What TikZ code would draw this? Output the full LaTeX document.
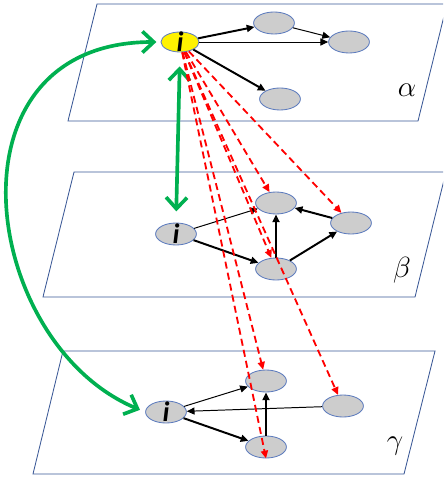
\documentclass[tikz,border=0pt]{standalone}
\usepackage{fontspec}
\setmainfont{Carlito}
\usetikzlibrary{arrows.meta,shapes.geometric}
\definecolor{planeblue}{RGB}{58,88,150}
\definecolor{nodeline}{RGB}{95,125,190}
\definecolor{nodegray}{RGB}{205,205,205}
\definecolor{linkgreen}{RGB}{0,176,80}

\begin{document}
\begin{tikzpicture}[x=0.025cm,y=-0.025cm,>={Triangle[length=5.5pt,width=5pt]},
  plane/.style={draw=planeblue,line width=0.6pt},
  vert/.style={draw=nodeline,line width=0.6pt,ellipse,fill=nodegray,minimum width=1.02cm,minimum height=0.55cm,inner sep=0pt},
  self/.style={vert,label={[font=\fontsize{20}{20}\selectfont\bfseries\itshape,inner sep=0pt]center:i}},
  layer/.style={font=\fontsize{21}{21}\selectfont},
  thick link/.style={->,line width=1.4pt},
  thin link/.style={->,line width=0.7pt},
  green link/.style={>={Straight Barb[length=8pt,width=15pt]},<->,draw=linkgreen,line width=2.6pt},
  cross link/.style={->,draw=red,line width=1.3pt,dash pattern=on 5pt off 3pt}]
\clip (0,0) rectangle (443,478);
\draw[plane] (68,121) -- (418,121) -- (447,4) -- (97,4) -- cycle;
\draw[plane] (43,297) -- (415,297) -- (446,172) -- (74,172) -- cycle;
\draw[plane] (33,474) -- (404,474) -- (435,351) -- (63,351) -- cycle;
\node[layer] (alpha) at (407,90) {$\alpha$};
\node[layer] (beta) at (402,270) {$\beta$};
\node[layer] (gamma) at (395,446) {$\gamma$};
\node[self,fill=yellow,minimum width=0.95cm,minimum height=0.5cm] (ai) at (180,42) {};
\node[vert] (a1) at (274,23) {};
\node[vert] (a2) at (349,42) {};
\node[vert] (a3) at (280,99) {};
\node[self] (bi) at (176,234) {};
\node[vert] (b1) at (276,203) {};
\node[vert] (b2) at (351,223) {};
\node[vert] (b3) at (276,269) {};
\node[self] (gi) at (166,412) {};
\node[vert] (g1) at (266,381) {};
\node[vert] (g2) at (343,406) {};
\node[vert] (g3) at (266,447) {};
\draw[thick link] (ai) -- (a1); \draw[thin link] (ai) -- (a2);
\draw[thin link] (a1) -- (a2); \draw[thick link] (ai) -- (a3);
\draw[thin link] (bi) -- (b1); \draw[thick link] (bi) -- (b3); \draw[thick link] (b3) -- (b1);
\draw[thick link] (b3) -- (b2); \draw[thick link] (b2) -- (b1);
\draw[thin link] (gi) -- (g1); \draw[thick link] (gi) -- (g3);
\draw[thick link] (g3) -- (g1); \draw[thin link] (g2) -- (gi);
\draw[green link,shorten <=10pt,shorten >=8pt] (ai.south) -- (bi.north);
\draw[green link,shorten <=3pt,shorten >=4pt] (ai.west) .. controls (-60,42) and (-20,343) .. (gi.west);
\foreach \t in {b1,b2,b3,g1,g2} { \draw[cross link] (ai) -- (\t); }
\draw[cross link] (ai) -- (g3.south);
\end{tikzpicture}
\end{document}
